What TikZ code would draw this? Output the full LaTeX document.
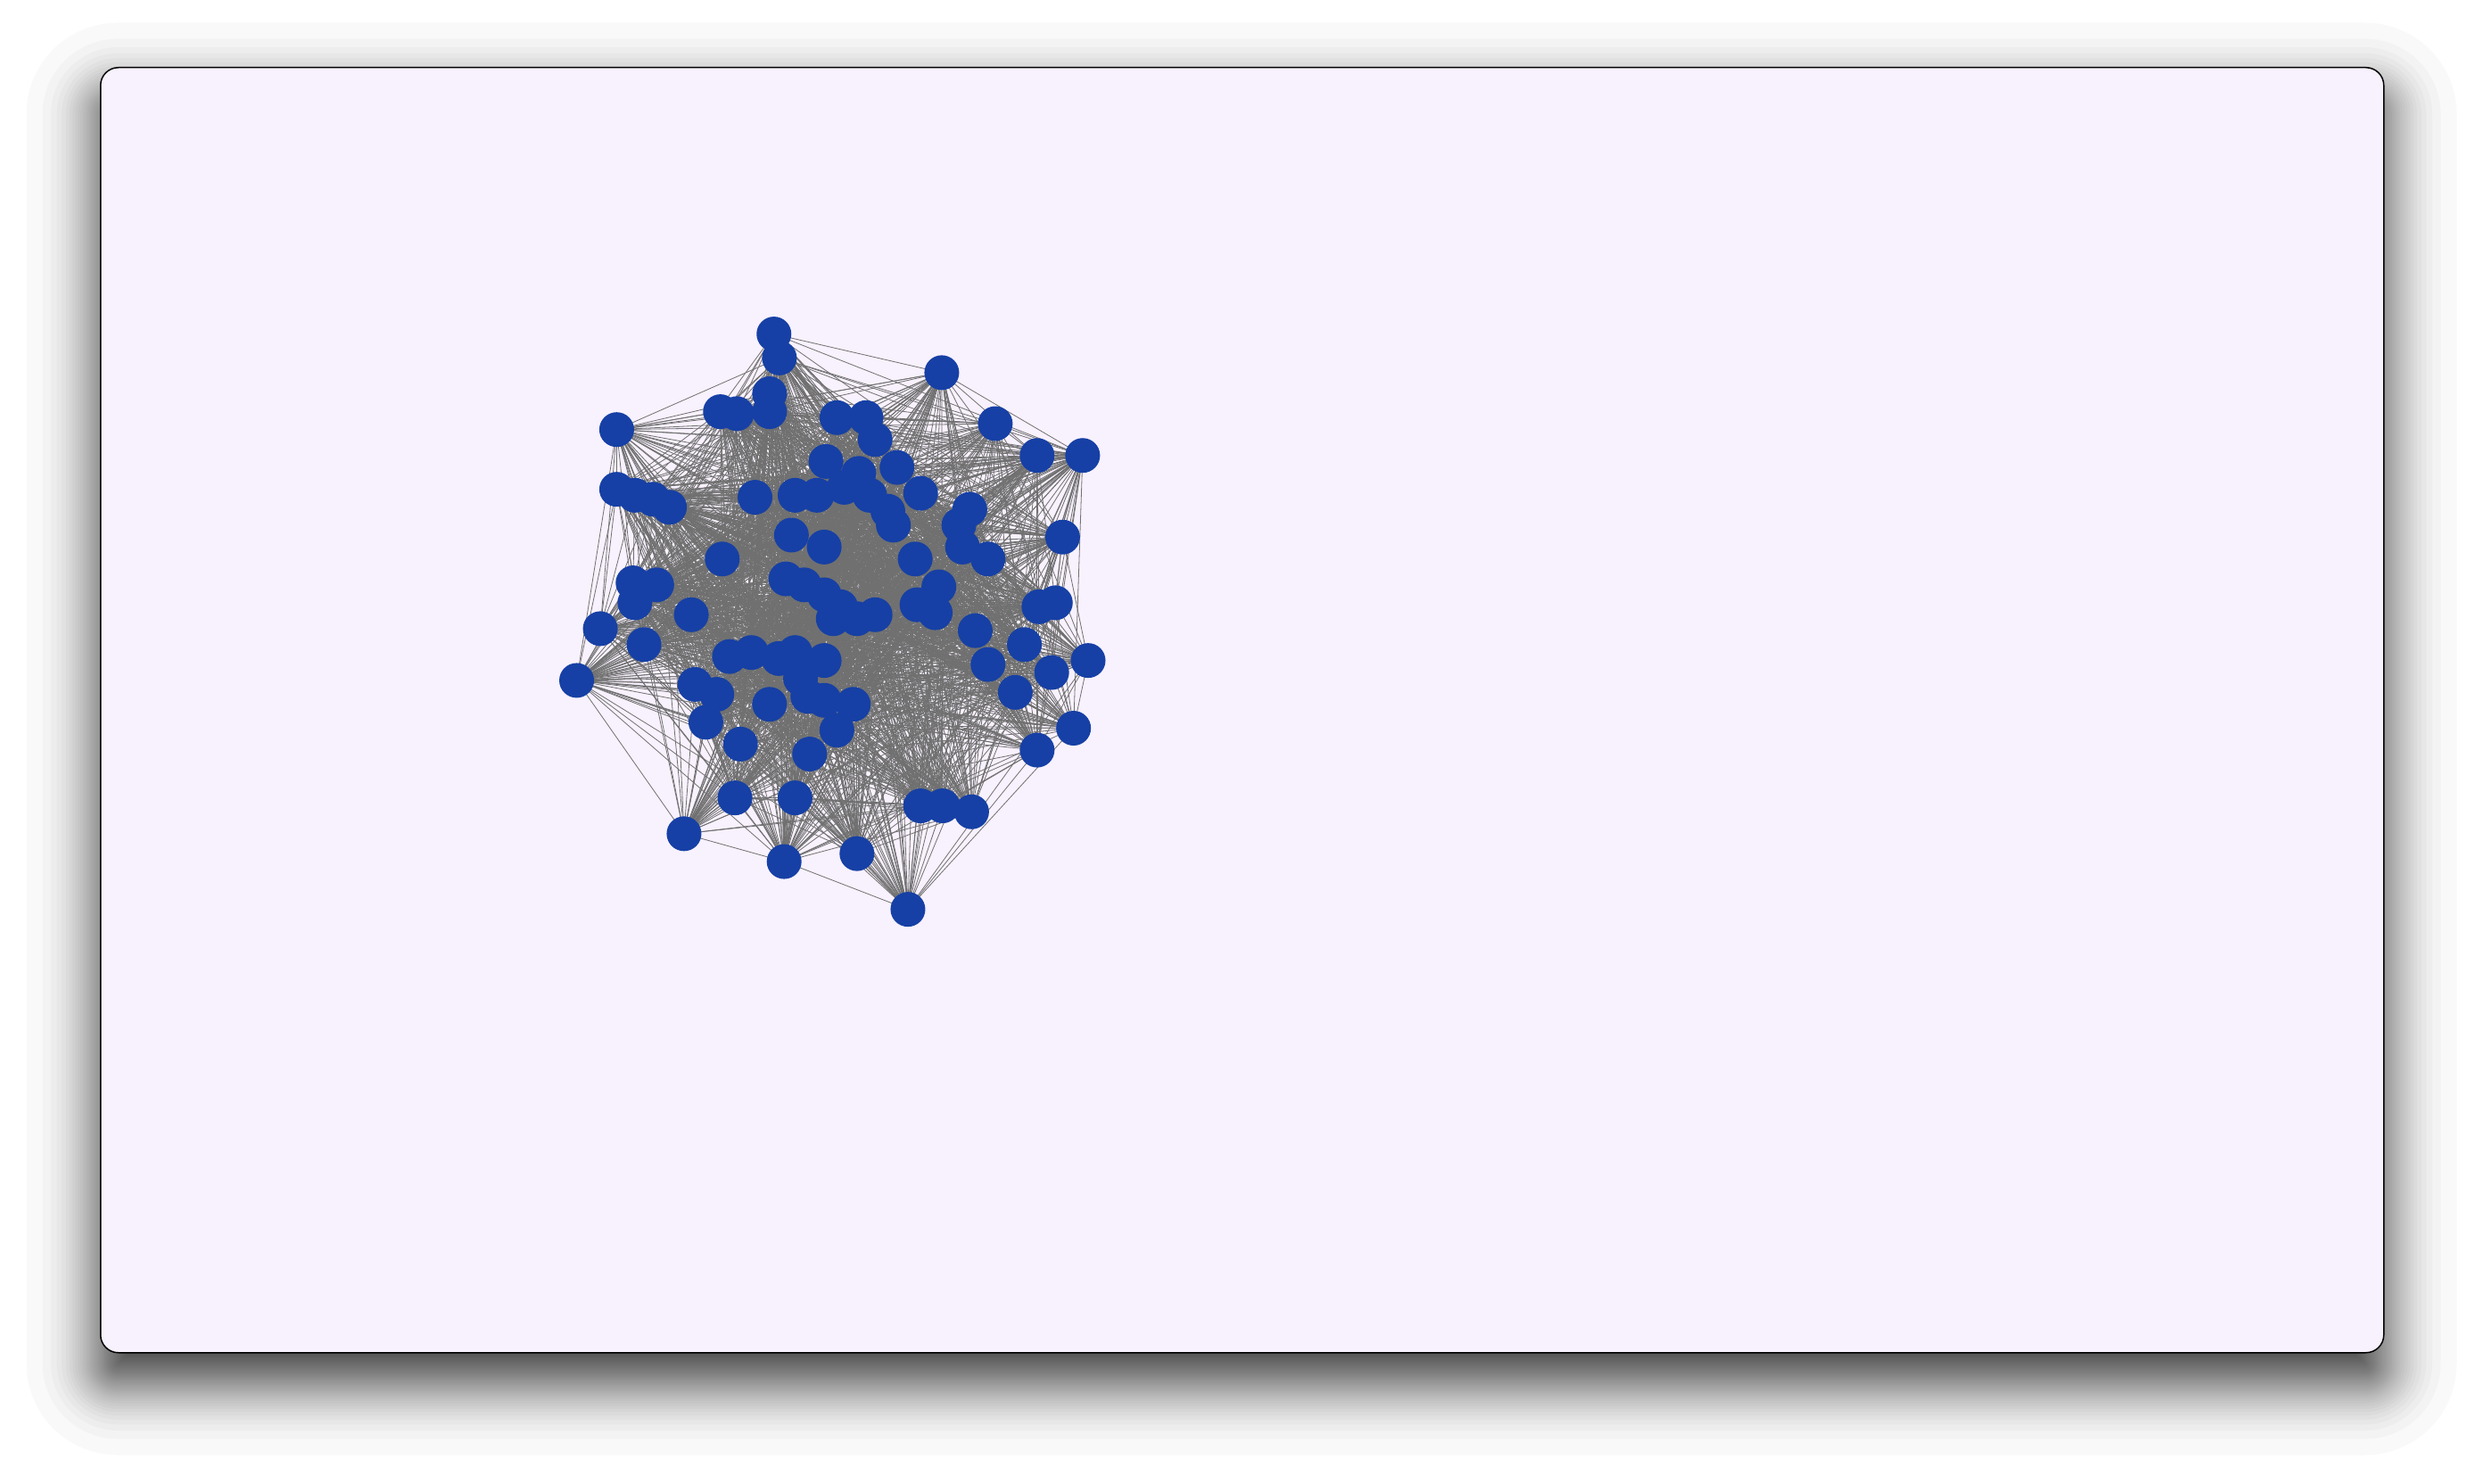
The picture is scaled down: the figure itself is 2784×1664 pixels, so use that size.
\documentclass[tikz,border=0pt]{standalone}
\usetikzlibrary{backgrounds}
\pgfdeclarelayer{shadowlayer}
\pgfdeclarelayer{edgelayer}
\pgfsetlayers{shadowlayer,edgelayer,main}
\definecolor{panelbg}{RGB}{248,241,254}
\definecolor{nodeblue}{RGB}{22,64,165}
\definecolor{edgegray}{RGB}{112,112,112}
\tikzset{
  gnode/.style={circle,fill=nodeblue,draw=none,minimum size=39pt,inner sep=0pt},
  gedge/.style={draw=edgegray,line width=0.8pt},
  panel/.style={fill=panelbg,draw=black,line width=1.5pt,rounded corners=20pt},
}
\begin{document}
\begin{tikzpicture}[x=1pt,y=-1pt]
\useasboundingbox (0,0) rectangle (2784,1664);
\begin{pgfonlayer}{shadowlayer}
\fill[white] (0,0) rectangle (2784,1664);
\foreach \e in {82.5,64.5,55.0,48.3,42.8,38.2,34.3,30.7,27.5,24.5,21.7,19.1,16.6,14.3,12.0,9.9,7.8,5.9,3.9,2.0,
0.1,-1.8,-3.5,-5.2,-6.9,-8.6,-10.2,-11.8,-13.5,-15.1,-16.7,-18.3,-19.9,-21.5,-23.1,-24.7,-26.4,-28.0,-29.7,-31.4}{
  \pgfmathsetmacro{\rc}{max(1,20+\e)}
  \fill[black,opacity=0.0222,rounded corners=\rc] ({112-\e},{108-\e}) rectangle ({2672+\e},{1549+\e});
}
\node[panel,minimum width=2560pt,minimum height=1441pt,anchor=north west] (frame) at (112,75) {};
\end{pgfonlayer}
\foreach \X/\Y [count=\k] in {
607/55,622/115,1068/152,175/295,460/250,505/255,595/205,595/250,780/265,860/265,
885/320,1215/280,1330/360,1455/360,750/375,840/405,945/390,1010/455,175/445,225/460,
275/470,320/490,555/465,665/460,725/460,800/440,870/460,920/500,935/535,1145/495,
1115/535,1125/590,1195/620,1400/565,655/560,745/590,465/620,995/620,1060/690,1000/735,
1050/755,640/670,690/685,745/710,790/740,770/770,835/770,885/760,220/680,285/685,
225/730,380/760,130/795,250/835,1335/740,1380/730,1160/800,1295/835,1195/885,1370/905,
1470/875,1270/955,65/925,485/865,545/855,620/870,665/855,745/875,680/920,700/965,
745/975,825/985,390/935,450/960,595/985,420/1030,780/1050,515/1085,705/1110,1430/1045,
1330/1100,1010/1240,1070/1240,1150/1255,500/1220,665/1220,360/1310,635/1380,835/1360,975/1500}
{
  \node[gnode] (n\k) at ({620+\X/2.45},{350+\Y/2.24}) {};
}
\pgfmathsetseed{4217}
\begin{pgfonlayer}{edgelayer}
\foreach \i in {1,...,90}{
  \foreach \j in {1,...,90}{
    \ifnum\j>\i
      \pgfmathparse{rnd}
      \ifdim\pgfmathresult pt<0.58pt
        \draw[gedge] (n\i.center) -- (n\j.center);
      \fi
    \fi
  }
}
\end{pgfonlayer}
\end{tikzpicture}
\end{document}
